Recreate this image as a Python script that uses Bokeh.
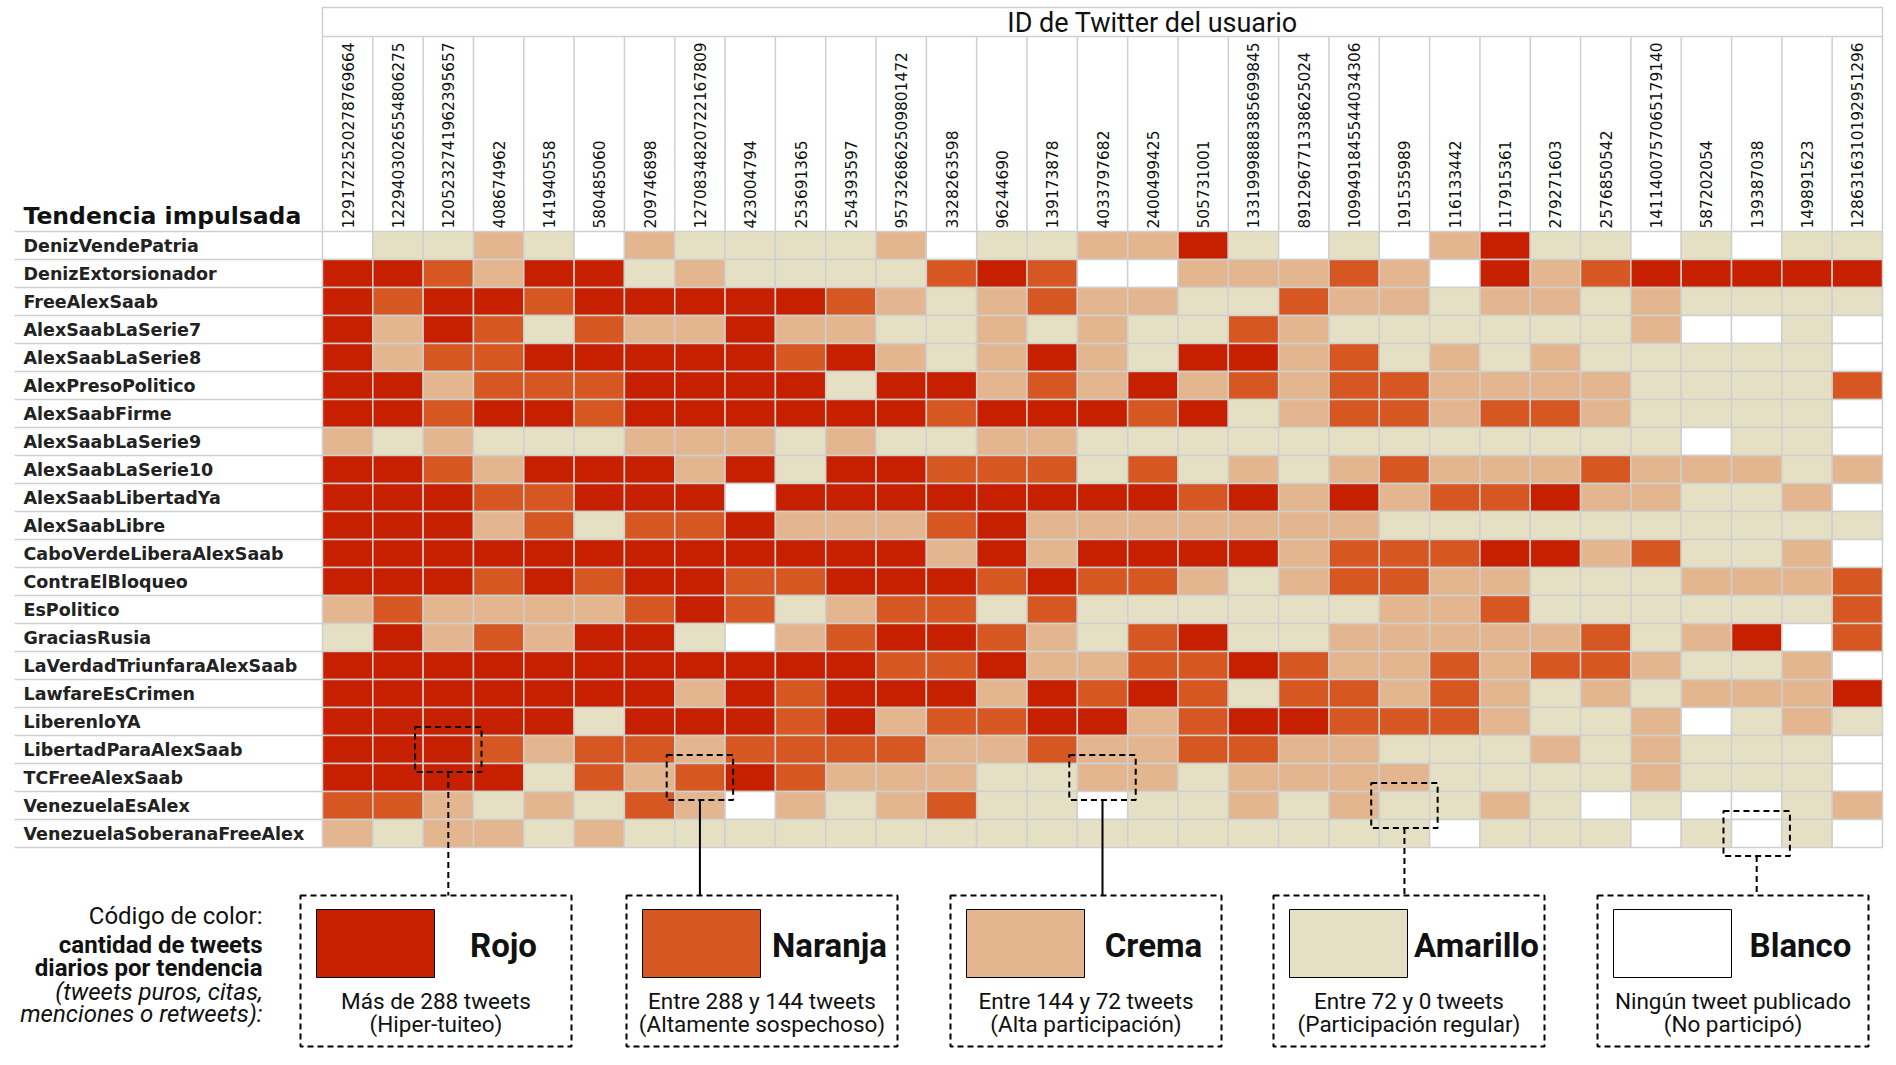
import math
from bokeh.plotting import figure
from bokeh.models import Range1d
from bokeh.core.properties import value
from bokeh.embed import file_html
from bokeh.resources import INLINE

# ---------------- data ----------------
trends = [
    "DenizVendePatria", "DenizExtorsionador", "FreeAlexSaab", "AlexSaabLaSerie7",
    "AlexSaabLaSerie8", "AlexPresoPolitico", "AlexSaabFirme", "AlexSaabLaSerie9",
    "AlexSaabLaSerie10", "AlexSaabLibertadYa", "AlexSaabLibre", "CaboVerdeLiberaAlexSaab",
    "ContraElBloqueo", "EsPolitico", "GraciasRusia", "LaVerdadTriunfaraAlexSaab",
    "LawfareEsCrimen", "LiberenloYA", "LibertadParaAlexSaab", "TCFreeAlexSaab",
    "VenezuelaEsAlex", "VenezuelaSoberanaFreeAlex",
]

user_ids = [
    "1291722520278769664", "1229403026554806275", "1205232741962395657", "408674962",
    "141940558", "580485060", "209746898", "1270834820722167809", "423004794",
    "253691365", "254393597", "957326862509801472", "3328263598", "96244690",
    "139173878", "4033797682", "2400499425", "505731001", "1331999888385699845",
    "891296771338625024", "1099491845544034306", "191535989", "116133442",
    "117915361", "279271603", "2576850542", "1411400757065179140", "587202054",
    "139387038", "149891523", "1286316310192951296",
]

# one letter per user: R=rojo, O=naranja, C=crema, A=amarillo, W=blanco
levels = [
    "WAACAWCAAAACWAA" "C" "CRAWAWCRAAWAWAA",
    "RROCRRACAAAAORO" "W" "WCCCOCWRCORRRRR",
    "RORRORRRRROCACO" "C" "CAAOCCACCACAAAA",
    "RCROAOCCRCCAACA" "C" "AAOCAAAAAACWWAW",
    "RCOORRRRRORCACR" "C" "ARRCOACACAAAAAW",
    "RRCOOORRRRARRCO" "C" "RCOCOOCCCCAAAAO",
    "RRORRORRRRRRORR" "R" "ORACOOCOOCAAAAW",
    "CACAAACCCACAACC" "A" "AAAAAAAAAAAWAAW",
    "RROCRRRCRARROOO" "A" "OACACOCCCOCCCAC",
    "RRROORRRWRRRRRR" "R" "RORCRCOORCCAACW",
    "RRRCOAOORCCCORC" "C" "CCCCCAAAAAAAAAA",
    "RRRRRRRRRRRRCRC" "R" "RRRCOOORRCOAACW",
    "RRRORORROORRROR" "O" "OCACOOCCAAACCCO",
    "COCCCCOROACOOAO" "A" "AAAAACCOAAAAAAO",
    "ARCOCRRAWCORROC" "A" "ORAACCCCCOACRWO",
    "RRRRRRRRRRROORC" "C" "OOROCCOCOOCAACW",
    "RRRRRRRCRORRRCR" "O" "ROAOOCOCACACCCR",
    "RRRRRARRRORCOOR" "R" "CORROOOCAACWACA",
    "RRROCOOCOOOOCCO" "C" "COOCCAAACACAAAW",
    "RRRRAOCOROCCCAA" "C" "CACCCCAAAACAAAW",
    "OOCACAOCWCACOAA" "W" "AACACAACAWAWWAC",
    "CACCACAAAAAAAAA" "A" "AAAAAAWAAAWAWAW",
]

level_codes = ["R", "O", "C", "A", "W"]
level_names = ["Rojo", "Naranja", "Crema", "Amarillo", "Blanco"]
level_colors = ["#C62000", "#D65722", "#E3B690", "#E5E0C4", "#FFFFFF"]
level_desc1 = ["Más de 288 tweets", "Entre 288 y 144 tweets", "Entre 144 y 72 tweets",
               "Entre 72 y 0 tweets", "Ningún tweet publicado"]
level_desc2 = ["(Hiper-tuiteo)", "(Altamente sospechoso)", "(Alta participación)",
               "(Participación regular)", "(No participó)"]
# example cell highlighted for each level: (row index, column index)
example_cells = [(18, 2), (19, 7), (19, 15), (20, 21), (21, 28)]
connector_dash = ["6 4", "solid", "solid", "6 4", "6 4"]

legend_lines = ["Código de color:", "cantidad de tweets", "diarios por tendencia",
                "(tweets puros, citas,", "menciones o retweets):"]
legend_styles = ["normal", "bold", "bold", "italic", "italic"]

# ---------------- layout ----------------
W, H = 1896, 1065
GX0, GY0 = 322.0, 231.0
NC, NR = len(user_ids), len(trends)
CW = 1560.0 / NC
RH = 616.0 / NR

def px(x):
    return (x - GX0) / CW

def py(y):
    return (y - GY0) / RH

p = figure(width=W, height=H, output_backend="svg", toolbar_location=None,
           x_axis_type=None, y_axis_type=None, min_border=0,
           x_range=Range1d(px(0), px(W)), y_range=Range1d(py(H), py(0)))
p.outline_line_color = None
p.grid.visible = False
p.background_fill_color = "white"
p.border_fill_color = "white"

color_of = dict(zip(level_codes, level_colors))

# cells
xs, ys, cols = [], [], []
for r, row in enumerate(levels):
    for c, code in enumerate(row):
        xs.append(c + 0.5)
        ys.append(r + 0.5)
        cols.append(color_of[code])
p.rect(x=xs, y=ys, width=1, height=1, fill_color=cols, line_color="#cfcfcf", line_width=1.5)

# header box & column separators
p.quad(left=[0], right=[NC], top=[py(7)], bottom=[py(36)], fill_color=None,
       line_color="#cfcfcf", line_width=1.5)
p.segment(x0=list(range(NC + 1)), x1=list(range(NC + 1)), y0=[py(36)] * (NC + 1),
          y1=[0] * (NC + 1), line_color="#cfcfcf", line_width=1.5)
p.text(x=[px(1152)], y=[py(22)], text=["ID de Twitter del usuario"],
       text_font=value("Roboto"), text_font_size="27px", text_align="center",
       text_baseline="middle", text_color="#111111")

# column labels (user ids)
p.text(x=[c + 0.5 for c in range(NC)], y=[py(228)] * NC, text=user_ids, angle=math.pi / 2,
       text_font=value("DejaVu Sans"), text_font_size="15.4px", text_align="left",
       text_baseline="middle", text_color="#111111")

# row labels
p.segment(x0=[px(14)] * (NR + 1), x1=[0] * (NR + 1), y0=list(range(NR + 1)),
          y1=list(range(NR + 1)), line_color="#cfcfcf", line_width=1.5)
p.text(x=[px(23)] * NR, y=[r + 0.5 for r in range(NR)], text=trends,
       text_font=value("DejaVu Sans"), text_font_style="bold", text_font_size="17.5px",
       text_align="left", text_baseline="middle", text_color="#222222")
p.text(x=[px(23)], y=[py(215)], text=["Tendencia impulsada"],
       text_font=value("DejaVu Sans"), text_font_style="bold", text_font_size="23.5px",
       text_align="left", text_baseline="middle", text_color="#111111")

# highlight boxes on the grid + connectors
for i, (r, c) in enumerate(example_cells):
    p.quad(left=[c + 0.5 - 0.66], right=[c + 0.5 + 0.66], top=[r + 0.5 - 0.8],
           bottom=[r + 0.5 + 0.8], fill_color=None, line_color="black",
           line_width=2, line_dash="6 4")
    p.segment(x0=[c + 0.5], x1=[c + 0.5], y0=[r + 0.5 + 0.8], y1=[py(895)],
              line_color="black", line_width=2, line_dash=connector_dash[i])

# legend boxes
box_left = [300, 626, 950, 1273, 1597]
BW = 271
for i in range(5):
    L = box_left[i]
    p.quad(left=[px(L)], right=[px(L + BW)], top=[py(895)], bottom=[py(1046)],
           fill_color=None, line_color="black", line_width=2, line_dash="6 4")
    p.quad(left=[px(L + 16)], right=[px(L + 134)], top=[py(909)], bottom=[py(977)],
           fill_color=level_colors[i], line_color="black", line_width=1)
    p.text(x=[px(L + 203)], y=[py(945)], text=[level_names[i]], text_font=value("Roboto"),
           text_font_style="bold", text_font_size="33px", text_align="center",
           text_baseline="middle", text_color="#111111")
    p.text(x=[px(L + BW / 2)] * 2, y=[py(1000), py(1023)],
           text=[level_desc1[i], level_desc2[i]], text_font=value("Roboto"),
           text_font_size="22.5px", text_align="center", text_baseline="middle",
           text_color="#111111")

# legend explanation on the left
ly = [915, 944, 967, 991, 1013]
for t, st, y in zip(legend_lines, legend_styles, ly):
    p.text(x=[px(262)], y=[py(y)], text=[t], text_font=value("Roboto"),
           text_font_style=st, text_font_size="24px", text_align="right",
           text_baseline="middle", text_color="#111111")

open("out.html", "w").write(file_html(p, INLINE))
